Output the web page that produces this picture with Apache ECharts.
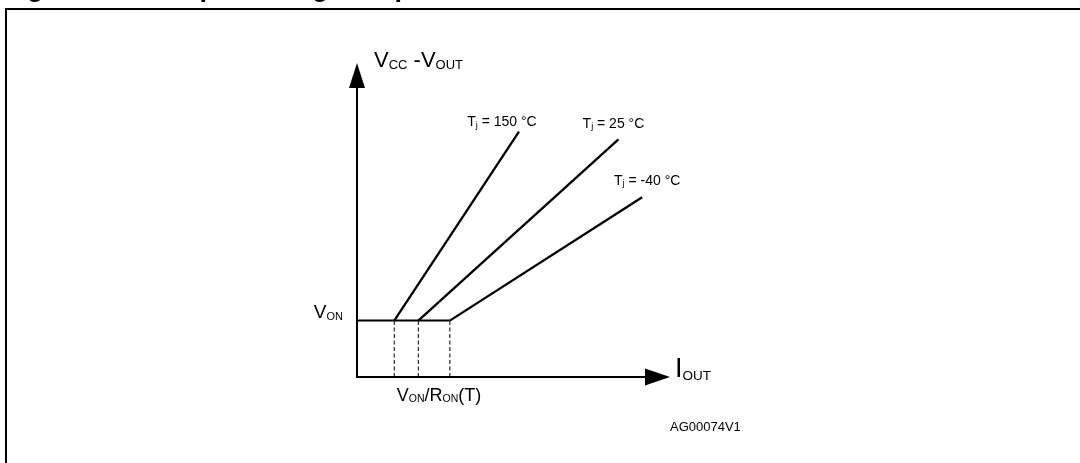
<!DOCTYPE html>
<html>
<head>
<meta charset="utf-8">
<script src="https://cdn.jsdelivr.net/npm/echarts@6/dist/echarts.min.js"></script>
<style>
html, body { margin: 0; padding: 0; background: #fff; }
#chart { width: 1080px; height: 463px; }
</style>
</head>
<body>
<div id="chart"></div>
<script>
// schematic curve, arbitrary units (both axes run 0..10)
const vOn = 1.87
const tempLabels = ['150', '25', '-40']
const kneeCurrent = [1.24, 2.04, 3.09]
const endCurrent = [5.39, 8.70, 9.49]
const endVoltage = [8.14, 7.88, 5.96]
const yTicks = [vOn]
const yTickLabels = ['V_{ON}']
const xTicks = [2.73]
const xTickLabels = ['V_{ON}/R_{ON}(T)']

const FONT = "'Liberation Sans Narrow', 'Arial Narrow', 'Liberation Sans', Arial, sans-serif"

// 'V_{CC} -V_{OUT}' -> '{m|V}{s|CC}{m| -V}{s|OUT}'
function toRich (s) {
  return s.split(/_\{([^}]*)\}/).map((part, i) => part ? '{' + (i % 2 ? 's' : 'm') + '|' + part + '}' : '').join('')
}

function richStyle (main, small, subLine) {
  return {
    m: { fontFamily: FONT, fontSize: main, lineHeight: main, color: '#000', verticalAlign: 'bottom' },
    s: { fontFamily: FONT, fontSize: small, lineHeight: subLine || small, color: '#000', verticalAlign: 'bottom' }
  }
}

const labelOffsets = [[-17, -9], [-5, -15], [5, -16]]

const chart = echarts.init(document.getElementById('chart'), null, { renderer: 'canvas' })

const option = {
  animation: false,
  backgroundColor: '#fff',
  grid: { left: 357, top: 75.5, width: 300.5, height: 301.5 },
  xAxis: {
    type: 'value',
    min: 0,
    max: 10,
    splitLine: { show: false },
    axisTick: { show: false },
    axisLine: {
      show: true,
      lineStyle: { color: '#000', width: 2 },
      symbol: ['none', 'triangle'],
      symbolSize: [17, 25]
    },
    axisLabel: {
      customValues: xTicks,
      formatter: v => toRich(xTickLabels[xTicks.indexOf(v)]),
      margin: 10,
      rich: richStyle(18, 10.5)
    },
    name: toRich('I_{OUT}'),
    nameLocation: 'end',
    nameGap: 17.5,
    nameTextStyle: {
      align: 'left',
      verticalAlign: 'middle',
      padding: [0, 0, 14, 0],
      rich: richStyle(27, 13.5)
    }
  },
  yAxis: {
    type: 'value',
    min: 0,
    max: 10,
    splitLine: { show: false },
    axisTick: { show: false },
    axisLine: {
      show: true,
      lineStyle: { color: '#000', width: 2 },
      symbol: ['none', 'triangle'],
      symbolSize: [16, 25]
    },
    axisLabel: {
      customValues: yTicks,
      formatter: v => toRich(yTickLabels[yTicks.indexOf(v)]),
      margin: 14,
      padding: [0, 0, 16, 0],
      rich: richStyle(19, 11)
    },
    name: toRich('V_{CC} -V_{OUT}'),
    nameLocation: 'end',
    nameGap: 4,
    nameTextStyle: {
      align: 'left',
      verticalAlign: 'bottom',
      padding: [0, 0, 0, 17],
      rich: richStyle(22, 13)
    }
  },
  series: [
    // V_ON plateau
    {
      type: 'line',
      data: [[0, vOn], [kneeCurrent[2], vOn]],
      symbol: 'none',
      lineStyle: { color: '#000', width: 2 }
    },
    ...tempLabels.map((t, i) => ({
      type: 'line',
      name: 'Tj ' + t,
      data: [[kneeCurrent[i], vOn], [endCurrent[i], endVoltage[i]]],
      symbol: 'circle',
      symbolSize: 0,
      itemStyle: { color: '#000' },
      lineStyle: { color: '#000', width: 2.3 },
      label: {
        show: true,
        position: 'inside',
        offset: labelOffsets[i],
        formatter: p => p.dataIndex === 1 ? toRich('T_{j} = ' + t + ' °C') : '',
        rich: richStyle(14, 9, 6)
      }
    })),
    ...kneeCurrent.map(k => ({
      type: 'line',
      data: [[k, 0], [k, vOn]],
      symbol: 'none',
      lineStyle: { color: '#000', width: 1, type: [4, 2.5] }
    }))
  ],
  graphic: [
    {
      type: 'rect',
      silent: true,
      shape: { x: 6, y: 9, width: 1200, height: 600 },
      style: { fill: 'none', stroke: '#000', lineWidth: 2 }
    },
    {
      type: 'text',
      silent: true,
      x: 3,
      y: -11,
      style: {
        text: 'Figure 10.   Output voltage drop limitation',
        fontFamily: "'Liberation Sans', Arial, sans-serif",
        fontWeight: 'bold',
        fontSize: 27,
        verticalAlign: 'middle',
        fill: '#000'
      }
    },
    {
      type: 'text',
      silent: true,
      x: 670,
      y: 427.5,
      style: {
        text: 'AG00074V1',
        fontFamily: FONT,
        fontSize: 13,
        verticalAlign: 'middle',
        fill: '#000'
      }
    }
  ]
}

chart.setOption(option)
</script>
</body>
</html>
